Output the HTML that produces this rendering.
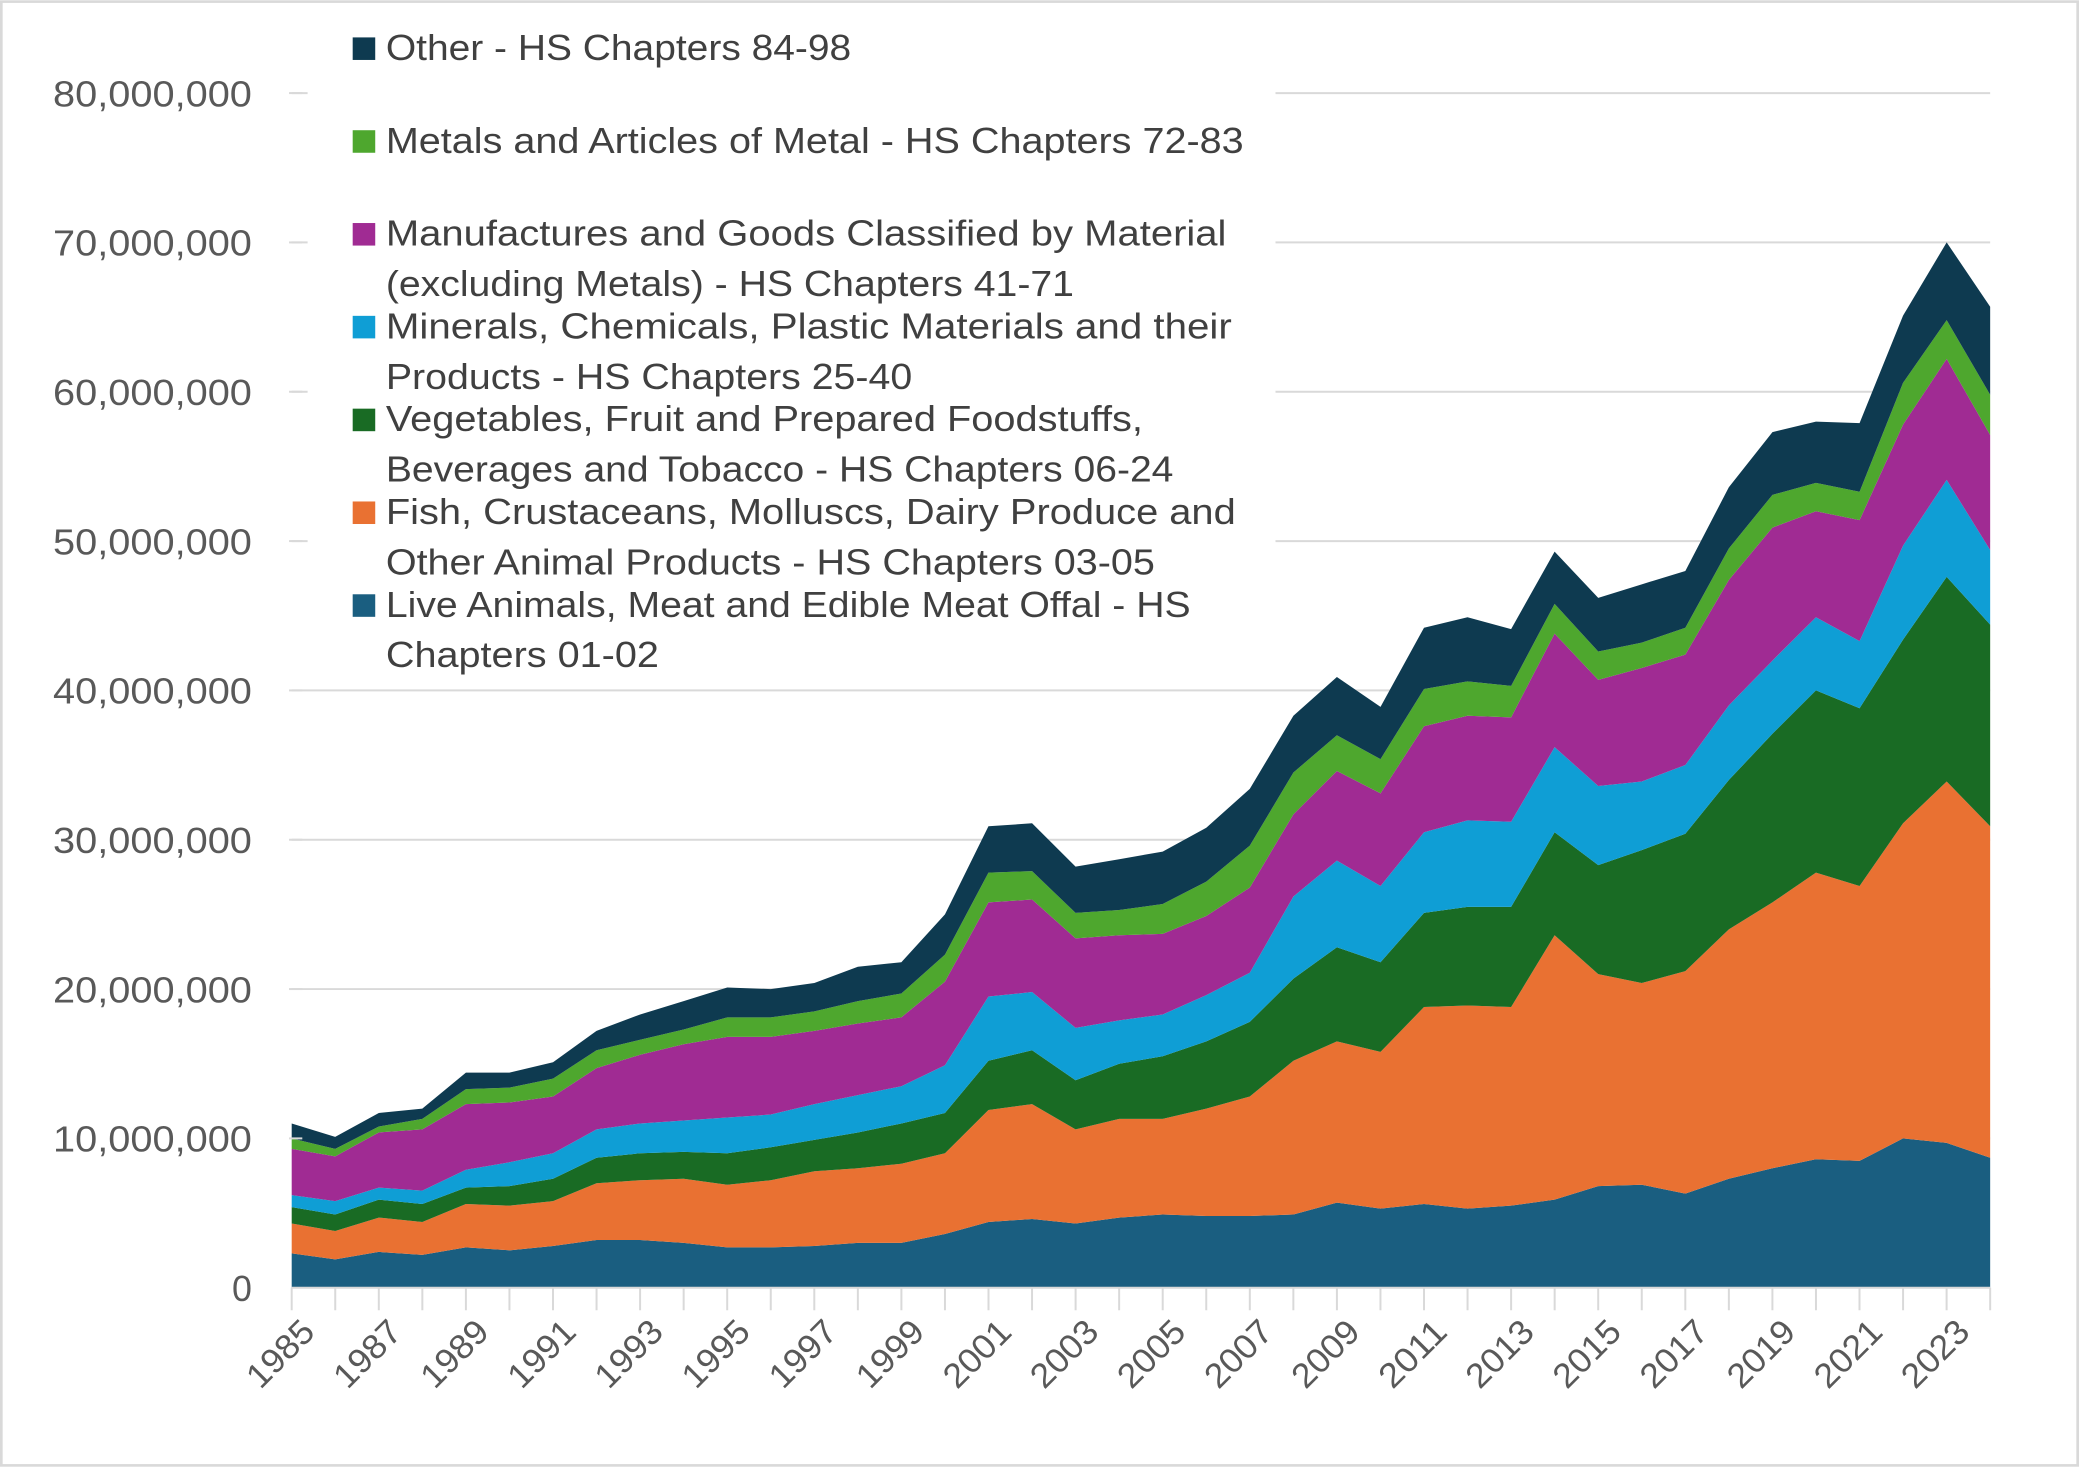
<!DOCTYPE html>
<html><head><meta charset="utf-8"><style>
html,body{margin:0;padding:0;background:#fff;}
svg{display:block;font-family:"Liberation Sans",sans-serif;}
</style></head><body>
<svg id="chart" width="2079" height="1467" viewBox="0 0 1568 1106" xmlns="http://www.w3.org/2000/svg">
<rect x="1" y="1" width="1566" height="1104" fill="#fff" stroke="#d9d9d9" stroke-width="2"/>
<g id="grid"></g>
<g id="areas"></g>
<g id="axes"></g>
<g id="legend"></g>
</svg>
<script>
const years = [];
for (let y = 1985; y <= 2024; y++) years.push(y);
const yTicks = [0,10000000,20000000,30000000,40000000,50000000,60000000,70000000,80000000];
const yTickLabels = ["0","10,000,000","20,000,000","30,000,000","40,000,000","50,000,000","60,000,000","70,000,000","80,000,000"];
// values in millions
const liveAnimals = [2.3,1.9,2.4,2.2,2.7,2.5,2.8,3.2,3.2,3.0,2.7,2.7,2.8,3.0,3.0,3.6,4.4,4.6,4.3,4.7,4.9,4.8,4.8,4.9,5.7,5.3,5.6,5.3,5.5,5.9,6.8,6.9,6.3,7.3,8.0,8.6,8.5,10.0,9.7,8.7];
const fish = [2.0,1.9,2.3,2.2,2.9,3.0,3.0,3.8,4.0,4.3,4.2,4.5,5.0,5.0,5.3,5.4,7.5,7.7,6.3,6.6,6.4,7.2,8.0,10.3,10.8,10.5,13.2,13.6,13.3,17.7,14.2,13.5,14.9,16.7,17.8,19.2,18.4,21.1,24.2,22.2];
const vegetables = [1.1,1.1,1.2,1.2,1.1,1.3,1.5,1.7,1.8,1.8,2.1,2.2,2.1,2.4,2.7,2.7,3.3,3.6,3.3,3.7,4.2,4.5,5.0,5.5,6.3,6.0,6.3,6.6,6.7,6.9,7.3,8.9,9.2,10.0,11.3,12.2,11.9,12.3,13.7,13.5];
const minerals = [0.8,0.9,0.8,0.9,1.2,1.6,1.7,1.9,2.0,2.1,2.4,2.2,2.4,2.5,2.5,3.2,4.3,3.9,3.5,2.9,2.8,3.1,3.3,5.5,5.8,5.1,5.4,5.8,5.7,5.7,5.3,4.6,4.6,5.0,4.9,4.9,4.5,6.3,6.5,5.0];
const manufactures = [3.1,3.0,3.7,4.1,4.4,4.0,3.8,4.1,4.6,5.1,5.4,5.2,4.9,4.8,4.6,5.6,6.3,6.2,6.0,5.7,5.4,5.3,5.7,5.5,6.0,6.2,7.1,7.0,7.0,7.6,7.1,7.6,7.4,8.4,8.9,7.1,8.1,8.1,8.1,7.7];
const metals = [0.7,0.5,0.4,0.7,1.0,1.0,1.2,1.2,1.0,1.0,1.3,1.3,1.3,1.5,1.6,1.8,2.0,1.9,1.7,1.7,2.0,2.3,2.8,2.8,2.4,2.3,2.5,2.3,2.1,2.0,1.9,1.7,1.8,2.1,2.2,1.9,1.9,2.8,2.6,2.7];
const other = [1.0,0.8,0.9,0.7,1.1,1.0,1.1,1.3,1.7,1.9,2.0,1.9,1.9,2.3,2.1,2.7,3.1,3.2,3.1,3.4,3.5,3.6,3.8,3.8,3.9,3.5,4.1,4.3,3.8,3.5,3.6,3.9,3.8,4.1,4.2,4.1,4.6,4.5,5.2,5.9];
const series = [liveAnimals,fish,vegetables,minerals,manufactures,metals,other];

const colors = ["#1a5e80","#e97132","#196b24","#0f9ed5","#a02b93","#4ea72e","#0e3a50"];
const keys = ["live-animals","fish","vegetables","minerals","manufactures","metals","other"];
const NS = "http://www.w3.org/2000/svg";
const X0 = 220, X1 = 1501, Y0 = 971, Y80 = 70;
const xs = i => X0 + (X1 - X0) * i / (years.length - 1);
const ys = v => Y0 - (Y0 - Y80) * v / 80000000;
function mk(tag, attrs, parent){const e=document.createElementNS(NS,tag);for(const k in attrs)e.setAttribute(k,attrs[k]);parent.appendChild(e);return e;}

const grid = document.getElementById('grid');
yTicks.forEach((t,i)=>{
  if (t>0){
    const l = mk('line',{x1:X0,x2:X1,y1:ys(t),y2:ys(t),stroke:'#d9d9d9','stroke-width':1.5},grid);
    
    
  }
});

const areas = document.getElementById('areas');
let base = years.map(()=>0);
series.forEach((s,k)=>{
  const top = base.map((b,i)=>b + s[i]*1e6);
  let d = 'M' + years.map((y,i)=>xs(i).toFixed(1)+','+ys(top[i]).toFixed(1)).join(' L');
  for (let i=years.length-1;i>=0;i--) d += ' L'+xs(i).toFixed(1)+','+ys(base[i]).toFixed(1);
  d += 'Z';
  const p = mk('path',{d:d,fill:colors[k]},areas);
  
  
  base = top;
});

const axes = document.getElementById('axes');
const ax = mk('line',{x1:X0,x2:X1,y1:Y0,y2:Y0,stroke:'#d9d9d9','stroke-width':1.5},axes);


years.forEach((y,i)=>{
  const tk = mk('line',{x1:xs(i),x2:xs(i),y1:Y0,y2:Y0+17,stroke:'#d9d9d9','stroke-width':1.5},axes);
  
  
  if (i%2===0){
    const tx = xs(i)+6, ty = Y0+22;
    const t = mk('text',{x:tx,y:ty,'font-size':26,fill:'#595959','text-anchor':'end',transform:`rotate(-45 ${tx} ${ty})`,'dominant-baseline':'hanging',textLength:60,lengthAdjust:'spacingAndGlyphs'},axes);
    t.textContent = y;
    
    
  }
});
yTicks.forEach((v,i)=>{
  const attrs = {x:190,y:ys(v)+10,'font-size':27,fill:'#595959','text-anchor':'end'};
  if (v>0){ attrs.textLength = 150; attrs.lengthAdjust = 'spacingAndGlyphs'; }
  const t = mk('text',attrs,axes);
  t.textContent = yTickLabels[i];
  
  
  if (v>0){
    const d = mk('line',{x1:218,x2:228,y1:ys(v),y2:ys(v),stroke:'#d9d9d9','stroke-width':1.5},axes);
    
    
  }
});

const legend = document.getElementById('legend');
const bg = mk('rect',{x:232,y:8,width:730,height:505,fill:'#fff'},legend);


const legendLines = [
  [6,[["Other - HS Chapters 84-98",351]],45],
  [5,[["Metals and Articles of Metal - HS Chapters 72-83",647]],115],
  [4,[["Manufactures and Goods Classified by Material",634],["(excluding Metals) - HS Chapters 41-71",519]],185],
  [3,[["Minerals, Chemicals, Plastic Materials and their",638],["Products - HS Chapters 25-40",397]],255],
  [2,[["Vegetables, Fruit and Prepared Foodstuffs,",571],["Beverages and Tobacco - HS Chapters 06-24",594]],325],
  [1,[["Fish, Crustaceans, Molluscs, Dairy Produce and",641],["Other Animal Products - HS Chapters 03-05",580]],395],
  [0,[["Live Animals, Meat and Edible Meat Offal - HS",607],["Chapters 01-02",206]],465]
];
legendLines.forEach(([k,lines,yb])=>{
  const g = mk('g',{},legend);
  
  
  const r = mk('rect',{x:266,y:yb-17,width:17,height:17,fill:colors[k]},g);
  
  
  lines.forEach(([ln,w],j)=>{
    const t = mk('text',{x:291,y:yb+j*38,'font-size':27,fill:'#404040',textLength:w,lengthAdjust:'spacingAndGlyphs'},g);
    t.textContent = ln;
    
    
  });
});
</script>
</body></html>
